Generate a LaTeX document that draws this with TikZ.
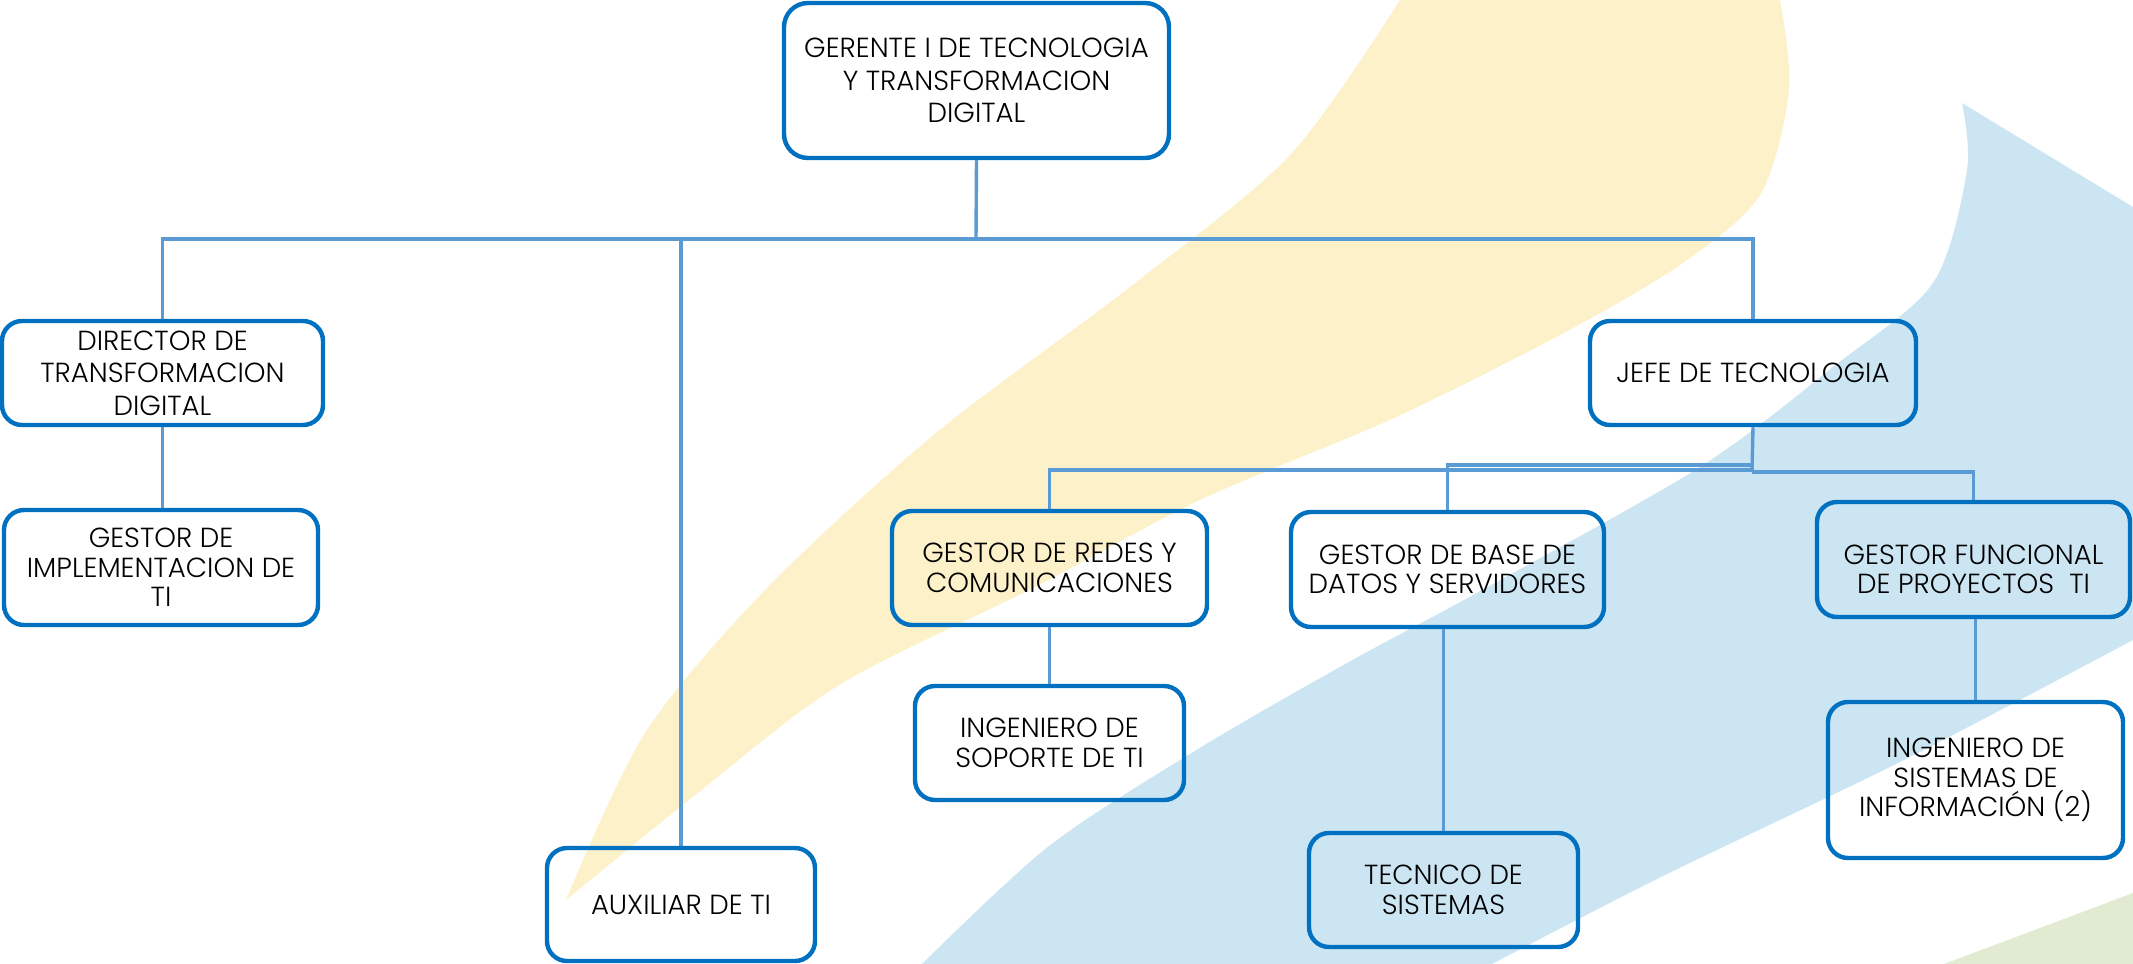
\documentclass[tikz,border=0pt]{standalone}
\usepackage{fontspec}
\setmainfont{Poppins}[UprightFont=*-Light, BoldFont=*-Regular]
\usetikzlibrary{fit}
\definecolor{boxblue}{RGB}{0,112,192}
\definecolor{lineblue}{RGB}{91,155,213}
\definecolor{bgyellow}{RGB}{253,241,201}
\definecolor{bgblue}{RGB}{204,229,243}
\definecolor{bggreen}{RGB}{224,235,210}
\newcommand\orgfont{\fontsize{13.8}{14.8}\selectfont}
\newcommand\orgfontwide{\fontsize{13.8}{16.3}\selectfont}
\tikzset{
  orgbox/.style={draw=boxblue, line width=2.2pt, rounded corners=10pt, inner sep=0pt},
  orgtext/.style={align=center, font=\orgfont, text=black, inner sep=0pt},
  widetext/.style={orgtext, font=\orgfontwide},
  conn/.style={draw=lineblue, line width=1.7pt},
}
\begin{document}
\begin{tikzpicture}[x=0.5pt, y=-0.5pt]
\useasboundingbox (0,0) rectangle (2133,964);
% background swooshes
\fill[bgyellow] plot[smooth] coordinates {(566,900) (645,733) (767,588) (936,433) (1130,287) (1290,155) (1400,0)}
  -- (1780,0)
  -- plot[smooth] coordinates {(1780,0) (1789,90) (1760,195) (1680,265) (1560,335) (1394,418) (1200,500) (1033,588) (839,685) (694,796) (566,900)}
  -- cycle;
\fill[bgblue] (1962,103) -- (2133,207) -- (2133,640)
  -- plot[smooth] coordinates {(2133,640) (1904,760) (1661,877) (1492,964)}
  -- (922,964)
  -- plot[smooth] coordinates {(922,964) (1049,846) (1198,749) (1347,663) (1484,589) (1700,467) (1833,367) (1933,283) (1967,170) (1962,103)}
  -- cycle;
\fill[bggreen] (1944,964) -- (2133,893) -- (2133,964) -- cycle;
% boxes
\node[orgbox, rounded corners=12pt, fit={(784,3) (1169,158)}] (ger) {};
\node[orgbox, fit={(2,321) (323,425)}] (dir) {};
\node[orgbox, fit={(4,510) (318,625)}] (gimp) {};
\node[orgbox, fit={(547,848) (815,961)}] (aux) {};
\node[orgbox, fit={(1590,321) (1916,425)}] (jefe) {};
\node[orgbox, fit={(892,511) (1207,625)}] (redes) {};
\node[orgbox, fit={(1291,512) (1604,627)}] (base) {};
\node[orgbox, fit={(1817,502) (2130,617)}] (func) {};
\node[orgbox, fit={(915,686) (1184,800)}] (sop) {};
\node[orgbox, fit={(1309,833) (1578,947)}] (tec) {};
\node[orgbox, fit={(1828,702) (2123,858)}] (ing) {};
% texts
\node[widetext] (ger-t) at (ger.center) {GERENTE I DE TECNOLOGIA\\Y TRANSFORMACION\\DIGITAL};
\node[widetext] (dir-t) at (dir.center) {DIRECTOR DE\\TRANSFORMACION\\DIGITAL};
\node[orgtext] (gimp-t) at (gimp.center) {GESTOR DE\\IMPLEMENTACION DE\\TI};
\node[orgtext] (aux-t) at (aux.center) {AUXILIAR DE TI};
\node[orgtext] (jefe-t) at (jefe.center) {JEFE DE TECNOLOGIA};
\node[orgtext] (redes-t) at (redes.center) {GESTOR DE REDES Y\\COMUNICACIONES};
\node[orgtext] (base-t) at (base.center) {GESTOR DE BASE DE\\DATOS Y SERVIDORES};
\node[orgtext] (func-t) at ([yshift=-5pt]func.center) {GESTOR FUNCIONAL\\DE PROYECTOS\ \ TI};
\node[orgtext] (sop-t) at (sop.center) {INGENIERO DE\\SOPORTE DE TI};
\node[orgtext] (tec-t) at (tec.center) {TECNICO DE\\SISTEMAS};
\node[orgtext] (ing-t) at (ing.center) {INGENIERO DE\\SISTEMAS DE\\INFORMACIÓN (2)};
% connectors
\coordinate (j0) at (976,239);
\coordinate (j1) at (1752,472);
\coordinate (j1r) at (1752,470);
\coordinate (j1b) at (1752,465);
\draw[conn] (ger.south) -- (j0);
\draw[conn] (j0) -| (dir.north);
\draw[conn] (j0) -| (aux.north);
\draw[conn] (j0) -| (jefe.north);
\draw[conn] (dir.south) -- (dir.south |- gimp.north);
\draw[conn] (jefe.south) -- (j1);
\draw[conn] (j1r) -| (redes.north);
\draw[conn] (j1b) -| (base.north);
\draw[conn] (j1) -| (func.north);
\draw[conn] (redes.south) -- (sop.north);
\draw[conn] (tec.north |- base.south) -- (tec.north);
\draw[conn] (ing.north |- func.south) -- (ing.north);
\end{tikzpicture}
\end{document}
